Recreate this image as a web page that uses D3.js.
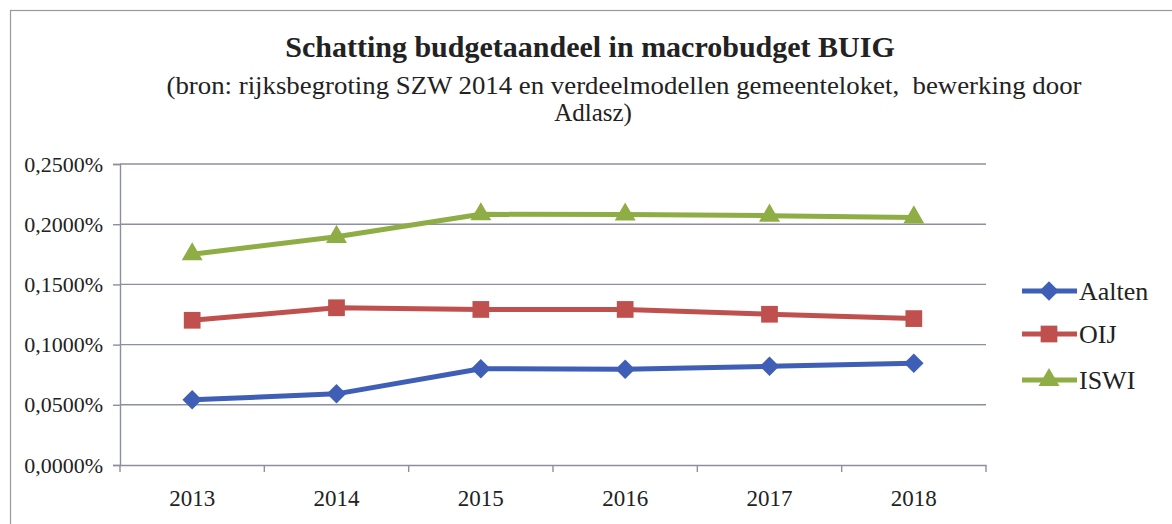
<!DOCTYPE html>
<html><head><meta charset="utf-8">
<script src="https://cdn.jsdelivr.net/npm/d3@7"></script>
<style>body{margin:0;background:#fff}svg{display:block}svg text{font-family:"Times New Roman","Liberation Serif","Tinos","DejaVu Serif",serif !important;fill:#222}</style>
</head><body><svg id="c" width="1172" height="524"></svg>
<script>
const years = ["2013","2014","2015","2016","2017","2018"];
const aalten = [0.0541, 0.0591, 0.0800, 0.0795, 0.0820, 0.0846];
const oij = [0.1202, 0.1306, 0.1292, 0.1292, 0.1252, 0.1216];
const iswi = [0.1750, 0.1895, 0.2082, 0.2080, 0.2071, 0.2056];
const yTicks = [0, 0.05, 0.10, 0.15, 0.20, 0.25];
const seriesNames = ["Aalten","OIJ","ISWI"];
const seriesValues = [aalten, oij, iswi];
const colors = ["#3f5fb6","#c0504d","#8fad45"];
const symbols = [d3.symbolSquare, d3.symbolSquare, d3.symbolTriangle];
const symRot = [45, 0, 0];
const symSizes = [190, 280, 190];
const FF = '"Times New Roman","Liberation Serif",serif';

const svg = d3.select("#c");
svg.append("rect").attr("x",10.5).attr("y",10.5).attr("width",1175).attr("height",525)
  .attr("fill","none").attr("stroke","#999").attr("stroke-width",1.2);

svg.append("text").attr("x",590).attr("y",57).attr("text-anchor","middle")
  .attr("font-size",30).attr("font-weight","bold").text("Schatting budgetaandeel in macrobudget BUIG");
svg.append("text").attr("x",624).attr("y",94).attr("text-anchor","middle")
  .attr("font-size",25).attr("textLength",915).attr("lengthAdjust","spacingAndGlyphs")
  .text("(bron: rijksbegroting SZW 2014 en verdeelmodellen gemeenteloket,  bewerking door").style("white-space","pre");
svg.append("text").attr("x",593).attr("y",121).attr("text-anchor","middle")
  .attr("font-size",25).text("Adlasz)");

const x = d3.scaleBand().domain(years).range([120,986]);
const y = d3.scaleLinear().domain([0,0.25]).range([465,164]);
const fmt = v => d3.format(".4f")(v).replace(".",",") + "%";
const gridCol = "#8c8f9e";

svg.append("g").selectAll("line").data(yTicks.slice(1)).join("line")
  .attr("x1",120).attr("x2",986).attr("y1",d=>y(d)).attr("y2",d=>y(d))
  .attr("stroke",gridCol).attr("stroke-width",1.4);

const yAxis = svg.append("g").attr("transform","translate(120,0)")
  .call(d3.axisLeft(y).tickValues(yTicks).tickFormat(fmt).tickSize(7).tickPadding(10));
yAxis.attr("font-family",FF);
yAxis.select(".domain").attr("stroke",gridCol).attr("stroke-width",1.4);
yAxis.selectAll(".tick line").attr("stroke",gridCol).attr("stroke-width",1.4);
yAxis.selectAll("text").attr("font-size",22).attr("fill","#222");

const xAxis = svg.append("g").attr("transform","translate(0,465)")
  .call(d3.axisBottom(x).tickSize(0).tickPadding(25));
xAxis.attr("font-family",FF);
xAxis.select(".domain").attr("stroke",gridCol).attr("stroke-width",1.4);
xAxis.selectAll("text").attr("font-size",23).attr("fill","#222");
const bounds = years.map(d=>x(d)).concat([x.range()[1]]);
xAxis.selectAll(".bt").data(bounds).join("line").attr("class","bt")
  .attr("x1",d=>d).attr("x2",d=>d).attr("y1",0).attr("y2",7)
  .attr("stroke",gridCol).attr("stroke-width",1.4);

const cx = d => x(d) + x.bandwidth()/2;
const line = d3.line().x((d,i)=>cx(years[i])).y(d=>y(d));

seriesValues.forEach((vals,si)=>{
  const g = svg.append("g");
  g.append("path").attr("d",line(vals)).attr("fill","none")
    .attr("stroke",colors[si]).attr("stroke-width",5).attr("stroke-linejoin","round");
  g.selectAll("path.m").data(vals).join("path").attr("class","m")
    .attr("transform",(d,i)=>`translate(${cx(years[i])},${y(d)}) rotate(${symRot[si]})`)
    .attr("d",d3.symbol().type(symbols[si]).size(symSizes[si]))
    .attr("fill",colors[si]);
});

const legY = [291, 334, 380];
seriesNames.forEach((n,i)=>{
  const g = svg.append("g").attr("transform",`translate(0,${legY[i]})`);
  g.append("line").attr("x1",1022).attr("x2",1077).attr("y1",0).attr("y2",0)
    .attr("stroke",colors[i]).attr("stroke-width",5);
  g.append("path").attr("transform",`translate(1049,0) rotate(${symRot[i]})`)
    .attr("d",d3.symbol().type(symbols[i]).size(symSizes[i])).attr("fill",colors[i]);
  g.append("text").attr("x",1079).attr("y",9).attr("font-size",26).text(n);
});
</script></body></html>
